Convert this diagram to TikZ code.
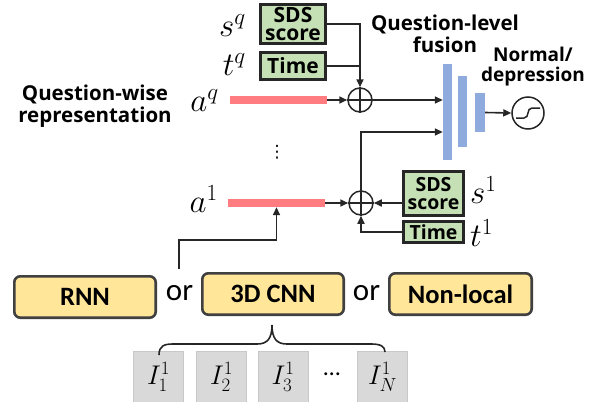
\RequirePackage{fix-cm}
\documentclass[tikz,border=0pt]{standalone}
\usepackage{fontspec}
\setmainfont{Open Sans}
\newfontfamily\calib{Carlito}
\newfontfamily\dejavu{DejaVu Sans}
\usetikzlibrary{arrows.meta}
\definecolor{gfill}{HTML}{C5E0B4}
\definecolor{yfill}{HTML}{FFE699}
\definecolor{pinkbar}{HTML}{FF7C80}
\definecolor{bluebar}{HTML}{8FAADC}
\definecolor{dk}{HTML}{262626}
\definecolor{yk}{HTML}{404040}
\definecolor{imgfill}{HTML}{D9D9D9}
\definecolor{imgline}{HTML}{C8C8C8}
\begin{document}
\begin{tikzpicture}[x=1pt,y=-1pt,
  gbox/.style={draw=dk, line width=2.8pt, fill=gfill, inner sep=0pt, align=center,
    font=\bfseries\fontsize{21}{18.5}\selectfont},
  gboxs/.style={gbox, font=\bfseries\fontsize{19.5}{18}\selectfont},
  ybox/.style={draw=yk, line width=2.6pt, fill=yfill, rounded corners=6pt, inner sep=0pt,
    minimum height=41.4pt, font=\calib\bfseries\fontsize{26.5}{28}\selectfont},
  pbar/.style={fill=pinkbar, inner sep=0pt, minimum height=8pt},
  fbar/.style={fill=bluebar, inner sep=0pt},
  oplus/.style={draw=dk, circle, line width=1.5pt, minimum size=24pt, inner sep=0pt},
  arr/.style={draw=dk, line width=1.6pt, -{Triangle[length=8pt,width=7pt]}},
  ln/.style={draw=dk, line width=1.6pt},
  mlab/.style={inner sep=0pt, font=\fontsize{33}{35}\selectfont},
  title/.style={inner sep=0pt, align=center, font=\bfseries\fontsize{20.5}{22}\selectfont},
  orlab/.style={inner sep=0pt, font=\calib\fontsize{31}{33}\selectfont},
  img/.style={draw=imgline, fill=imgfill, line width=0.8pt, minimum width=50pt, minimum height=52pt, inner sep=0pt,
    font=\fontsize{27}{29}\selectfont}
]
\useasboundingbox (0,0) rectangle (590,402);

% upper question q
\node[gbox, minimum width=65pt, minimum height=39pt] (sq) at (293,24) {SDS\\score};
\node[gbox, minimum width=65pt, minimum height=27pt] (tq) at (293,66) {Time};
\node[mlab, anchor=east] (sqlab) at (246,26) {$s^q$};
\node[mlab, anchor=east] (tqlab) at (246,65) {$t^q$};
\node[pbar, minimum width=97pt] (aqbar) at (278.5,100) {};
\node[mlab, anchor=east] (aqlab) at (219,101) {$a^q$};
\node[oplus] (cq) at (360,100) {};
\draw[ln] (cq.north) -- (cq.south) (cq.west) -- (cq.east);

% lower question 1
\node[pbar, minimum width=97pt] (a1bar) at (276.5,203) {};
\node[mlab, anchor=east] (a1lab) at (218,199) {$a^1$};
\node[oplus] (c1) at (361,203) {};
\draw[ln] (c1.north) -- (c1.south) (c1.west) -- (c1.east);
\node[gboxs, minimum width=60pt, minimum height=44pt] (s1) at (433.5,193.5) {SDS\\score};
\node[gboxs, minimum width=60pt, minimum height=21pt] (t1) at (433.5,232) {Time};
\node[mlab, anchor=west] (s1lab) at (470,190) {$s^1$};
\node[mlab, anchor=west] (t1lab) at (470,233) {$t^1$};
\node[inner sep=0pt, font=\dejavu\fontsize{17}{17}\selectfont] (vd) at (277,152) {⋮};

% fusion
\node[fbar, minimum width=9pt, minimum height=96pt] (f1) at (447.5,112) {};
\node[fbar, minimum width=9pt, minimum height=71pt] (f2) at (462.5,111.5) {};
\node[fbar, minimum width=10pt, minimum height=39pt] (f3) at (480,112.5) {};
\node[draw=dk, circle, line width=1.5pt, minimum size=32pt, inner sep=0pt] (sig) at (528,113) {};
\draw[dk, line width=1.5pt] ([xshift=-12pt,yshift=-5pt]sig.center) -- ([xshift=-4pt,yshift=-5pt]sig.center)
  .. controls ([xshift=2pt,yshift=-5pt]sig.center) and ([xshift=-2pt,yshift=5pt]sig.center) ..
  ([xshift=4pt,yshift=5pt]sig.center) -- ([xshift=12pt,yshift=5pt]sig.center);

% titles
\node[title] (qlf) at (445,34) {Question-level\\fusion};
\node[title, font=\bfseries\fontsize{19}{20}\selectfont] (nd) at (533,67) {Normal/\\depression};
\node[title] (qwr) at (95,106) {Question-wise\\representation};

% bottom encoders
\node[ybox, minimum width=141.4pt] (rnn) at (85,297) {RNN};
\node[ybox, minimum width=141.4pt] (cnn) at (273,294) {3D CNN};
\node[ybox, minimum width=142.4pt] (nl) at (460.5,294) {Non-local};
\node[orlab] (or1) at (179.5,293) {or};
\node[orlab] (or2) at (366.5,293) {or};

% frames
\node[img] (i1) at (158.5,377) {$I^1_1$};
\node[img] (i2) at (221.5,377) {$I^1_2$};
\node[img] (i3) at (283,377) {$I^1_3$};
\node[inner sep=0pt, font=\calib\fontsize{24}{24}\selectfont] (idots) at (332,374) {…};
\node[img] (iN) at (382.5,377) {$I^1_N$};
\draw[dk, line width=1.6pt] (159,355) .. controls (159,346) and (164,344) .. (173,344) -- (257,344)
  .. controls (267,344) and (272,339) .. (272,325)
  .. controls (272,339) and (277,344) .. (287,344) -- (371,344)
  .. controls (380,344) and (385,346) .. (385,352);

% connectors
\coordinate (src) at (179,269);
\draw[arr] (src) -- (179,240) -| (a1bar.south);
\draw[arr] (aqbar.east) -- (cq.west);
\draw[arr] (sq.east) -| (cq.north);
\draw[ln] (tq.east) -- (tq.east -| cq.north);
\draw[arr] (cq.east) -- (cq.east -| f1.west);
\draw[arr] (c1.north) |- ([yshift=-20pt]f1.west);
\draw[arr] (a1bar.east) -- (c1.west);
\draw[arr] (s1.west |- c1.east) -- (c1.east);
\draw[arr] (t1.west) -| (c1.south);
\draw[arr] (f3.east) -- (sig.west);
\end{tikzpicture}
\end{document}
